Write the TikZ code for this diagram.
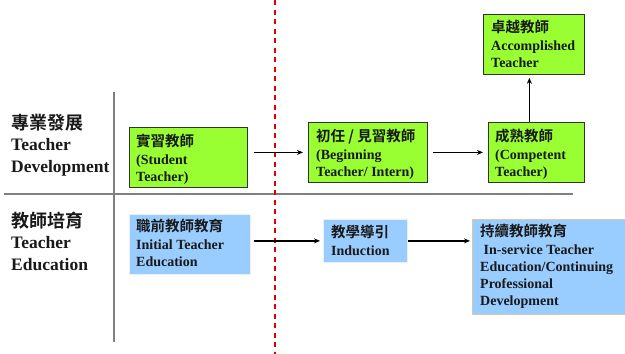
\documentclass[tikz,border=0pt]{standalone}
\usepackage{fontspec}
\setmainfont{Liberation Serif}
\newfontfamily\enserif{Liberation Serif}
\newfontfamily\cjk{Noto Sans CJK TC}[BoldFont={* Bold}]
\usetikzlibrary{arrows.meta}
\definecolor{boxgreen}{HTML}{99FF33}
\definecolor{boxblue}{HTML}{99CCFF}
\definecolor{lineg}{HTML}{808080}
\definecolor{dashred}{HTML}{E00000}
\definecolor{tanline}{HTML}{D8C9A6}
\definecolor{paleline}{HTML}{E8F0FF}
\tikzset{
  gbox/.style={draw=black!80,line width=0.8pt,fill=boxgreen,inner sep=0pt,anchor=north west},
  bbox/.style={draw=paleline,line width=0.8pt,fill=boxblue,inner sep=0pt,anchor=north west},
  btext/.style={anchor=north west,inner sep=0pt,align=left,font=\enserif\fontsize{14}{17}\selectfont\bfseries,text=black!90},
  ltext/.style={anchor=north west,inner sep=0pt,align=left,font=\enserif\fontsize{17.5}{22}\selectfont\bfseries,text=black!90},
  arr/.style={-{Stealth[length=6pt,width=5pt]},line width=1.5pt,draw=black},
  sepline/.style={draw=lineg,line width=2pt},
  redline/.style={draw=dashred,line width=1.2pt,dash pattern=on 5pt off 4.5pt}
}
\newcommand{\cz}[1]{{\cjk\bfseries\fontsize{14.5}{17}\selectfont #1}}
\newcommand{\czl}[1]{{\cjk\bfseries\fontsize{18}{22}\selectfont #1}}
\begin{document}
\begin{tikzpicture}[x=1pt,y=-1pt]
\useasboundingbox (0,0) rectangle (625,354);
% separators
\coordinate (vtop) at (114,92);
\coordinate (vbot) at (114,342);
\coordinate (hl) at (4,194);
\coordinate (hr) at (573,194);
\coordinate (rtop) at (275,0);
\coordinate (rbot) at (275,354);
\draw[sepline] (vtop) -- (vbot);
\draw[sepline] (hl) -- (hr);
\draw[redline] (rtop) -- (rbot);
% row labels
\node[ltext] (lab1) at (11,114) {\czl{專業發展}\\[-1pt]Teacher\\Development};
\node[ltext] (lab2) at (11,212) {\czl{教師培育}\\[-1pt]Teacher\\Education};
% green boxes
\node[gbox,minimum width=118pt,minimum height=60pt] (student) at (129,127) {};
\node[btext] (studentt) at (136,134) {\cz{實習教師}\\[1pt](Student\\Teacher)};
\node[gbox,minimum width=119pt,minimum height=60pt] (begin) at (308,122) {};
\node[btext] (begint) at (316,129) {\cz{初任 / 見習教師}\\[1pt](Beginning\\Teacher/ Intern)};
\node[gbox,minimum width=96pt,minimum height=60pt] (comp) at (488,122) {};
\node[btext] (compt) at (495,129) {\cz{成熟教師}\\[1pt](Competent\\Teacher)};
\node[gbox,minimum width=101pt,minimum height=60pt] (acc) at (483,14) {};
\node[btext] (acct) at (491,20) {\cz{卓越教師}\\[1pt]Accomplished\\Teacher};
% blue boxes
\node[bbox,minimum width=121pt,minimum height=60pt] (initial) at (129,214) {};
\node[btext] (initialt) at (136,219) {\cz{職前教師教育}\\[1pt]Initial Teacher\\Education};
\node[bbox,minimum width=84pt,minimum height=43pt] (induct) at (323,219) {};
\node[btext] (inductt) at (331,225) {\cz{教學導引}\\[1pt]Induction};
\node[bbox,draw=tanline,minimum width=156pt,minimum height=95pt] (inserv) at (472,219) {};
\node[btext] (inservt) at (480,224) {\cz{持續教師教育}\\[1pt]\ In-service Teacher\\Education/Continuing\\Professional\\Development};
% arrows
\draw[arr,shorten <=6pt,shorten >=5pt] (student.east |- begin.west) -- (begin.west);
\draw[arr,shorten <=5pt,shorten >=5pt] (begin.east) -- (comp.west);
\draw[arr,shorten >=3pt] ([xshift=-7pt]comp.north) -- ([xshift=-7pt]comp.north |- acc.south);
\draw[arr,shorten <=3pt,shorten >=3pt] (initial.east |- induct.west) -- (induct.west);
\draw[arr,shorten >=2pt] (induct.east) -- (induct.east -| inserv.west);
\end{tikzpicture}
\end{document}
